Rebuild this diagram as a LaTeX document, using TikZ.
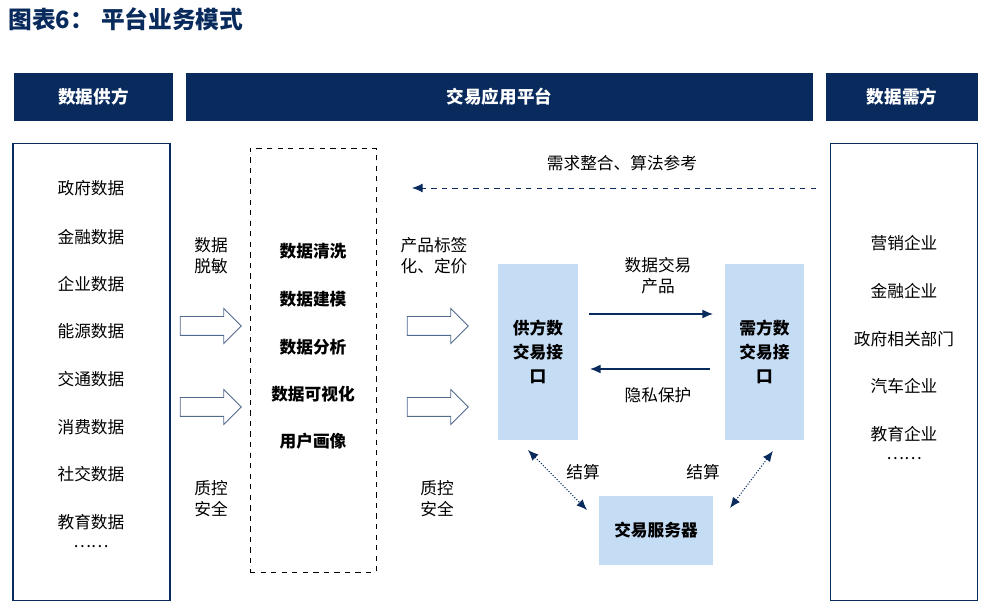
\documentclass[tikz,border=0pt]{standalone}
\usepackage{fontspec}
\setmainfont{Noto Sans CJK SC}
\usetikzlibrary{shapes.arrows}
\usetikzlibrary{arrows.meta}
\definecolor{navy}{RGB}{8,42,92}
\definecolor{lightblue}{RGB}{197,220,245}
\tikzset{
	headstyle/.style={rectangle,fill=navy,text=white,font=\fontsize{10}{12}\selectfont\bfseries,inner sep=0pt},
	framestyle/.style={rectangle,draw=navy,line width=0.6pt,inner sep=0pt},
	itemstyle/.style={font=\fontsize{9.5}{12}\selectfont,text=black,inner sep=1pt},
	stepstyle/.style={font=\fontsize{9.5}{12}\selectfont\bfseries,text=black,inner sep=1pt},
	portstyle/.style={rectangle,fill=lightblue,inner sep=0pt,font=\fontsize{9.5}{13.5}\selectfont\bfseries,align=center},
	blockarrow/.style={single arrow,draw=navy!70!white,fill=white,line width=0.5pt,minimum height=1.22cm,single arrow head extend=0.16cm,inner sep=0.18cm},
	flowarrow/.style={-{Latex[length=6pt,width=5pt]},draw=navy,line width=0.7pt},
	settlearrow/.style={{Latex[length=6pt,width=5pt]}-{Latex[length=6pt,width=5pt]},draw=navy,line width=0.6pt,densely dotted}
}
\begin{document}
\begin{tikzpicture}[x=0.02cm,y=-0.02cm]
	\useasboundingbox (0,0) rectangle (992,614);
	% title
	\node[anchor=west,text=navy,font=\fontsize{13.5}{15}\selectfont\bfseries,inner sep=0pt] (title) at (8,19) {图表6：\hspace{0.3em}平台业务模式};
	% headers
	\node[headstyle,minimum width=3.18cm,minimum height=0.96cm] (hsup) at (93.5,97) {数据供方};
	\node[headstyle,minimum width=12.54cm,minimum height=0.96cm] (hplat) at (499.5,97) {交易应用平台};
	\node[headstyle,minimum width=3.04cm,minimum height=0.96cm] (hdem) at (902,97) {数据需方};
	% supplier and demand frames
	\node[framestyle,minimum width=3.14cm,minimum height=9.16cm] (supbox) at (91.5,372) {};
	\node[framestyle,minimum width=2.94cm,minimum height=9.16cm] (dembox) at (904,372) {};
	\foreach \t/\y in {政府数据/188,金融数据/237,企业数据/284,能源数据/331,交通数据/379,消费数据/427,社交数据/474,教育数据/522}
		\node[itemstyle] at (91,\y) {\t};
	\node[itemstyle] (supdots) at (91,547) {……};
	\foreach \t/\y in {营销企业/243,金融企业/291,政府相关部门/339,汽车企业/386,教育企业/434}
		\node[itemstyle] at (904,\y) {\t};
	\node[itemstyle] (demdots) at (904,459) {……};
	% processing box
	\node[rectangle,draw=black,dashed,line width=0.5pt,minimum width=2.52cm,minimum height=8.48cm,inner sep=0pt] (proc) at (313,360) {};
	\foreach \t/\y in {数据清洗/251,数据建模/299,数据分析/347,数据可视化/394,用户画像/441}
		\node[stepstyle] at (313,\y) {\t};
	% side labels
	\node[itemstyle,align=center] (desens) at (211,256) {数据\\脱敏};
	\node[itemstyle,align=center] (qc1) at (211,499) {质控\\安全};
	\node[itemstyle,align=center] (tagging) at (434,256) {产品标签\\化、定价};
	\node[itemstyle,align=center] (qc2) at (437,499) {质控\\安全};
	% block arrows
	\node[blockarrow] (ba1) at (206,326) {};
	\node[blockarrow] (ba2) at (206,407) {};
	\node[blockarrow] (ba3) at (433,326) {};
	\node[blockarrow] (ba4) at (433,407) {};
	% trading interfaces
	\node[portstyle,minimum width=1.6cm,minimum height=3.52cm] (support) at (538,352) {供方数\\交易接\\口};
	\node[portstyle,minimum width=1.58cm,minimum height=3.52cm] (demport) at (764.5,352) {需方数\\交易接\\口};
	\node[portstyle,minimum width=2.28cm,minimum height=1.38cm] (server) at (656,530.5) {交易服务器};
	% feedback
	\coordinate (fbstart) at (816,188);
	\coordinate (fbend) at (412,188);
	\draw[flowarrow,dashed,line width=0.5pt] (fbstart) -- (fbend);
	\node[itemstyle] (fblabel) at (622,163) {需求整合、算法参考};
	% trading flows
	\draw[flowarrow] (589,314) -- (713,314);
	\draw[flowarrow] (710,369) -- (590,369);
	\node[itemstyle,align=center] (prodlabel) at (658,276) {数据交易\\产品};
	\node[itemstyle] (privlabel) at (658,395) {隐私保护};
	% settlement
	\draw[settlearrow] (528,450) -- (587,510);
	\draw[settlearrow] (773,451) -- (730,508);
	\node[itemstyle] (settle1) at (583,472) {结算};
	\node[itemstyle] (settle2) at (703,472) {结算};
\end{tikzpicture}
\end{document}
